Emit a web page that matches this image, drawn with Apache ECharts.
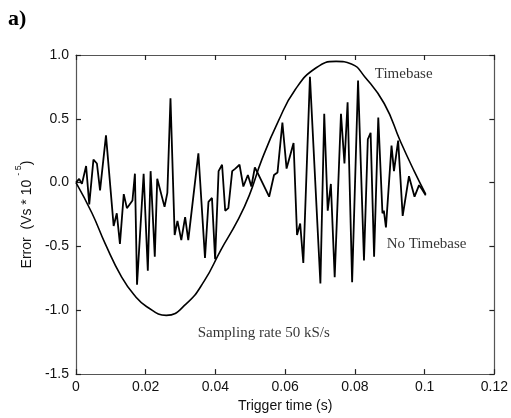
<!DOCTYPE html>
<html>
<head>
<meta charset="utf-8">
<script src="https://cdn.jsdelivr.net/npm/echarts@6/dist/echarts.min.js"></script>
<style>
html, body { margin: 0; padding: 0; background: #fff; }
#chart { width: 511px; height: 418px; }
</style>
</head>
<body>
<div id="chart"></div>
<script>
// smooth reference curve (t in s, error in Vs*1e-5)
var timebase = [
    [0, 0], [0.0046, -0.24], [0.0084, -0.48], [0.0131, -0.74], [0.017, -0.89],
    [0.0202, -0.97], [0.0259, -1.04], [0.0316, -0.95], [0.0368, -0.77], [0.0415, -0.53],
    [0.0463, -0.30], [0.0497, -0.10], [0.0533, 0.18], [0.058, 0.48], [0.0629, 0.73],
    [0.0689, 0.90], [0.0746, 0.95], [0.079, 0.93], [0.0828, 0.83], [0.0884, 0.62],
    [0.0931, 0.32], [0.097, 0.09], [0.1003, -0.09]
];

// noisy measurement without timebase
var noTimebase = [
    [0, 0], [0.0009, 0.03], [0.0017, -0.01], [0.0029, 0.13], [0.0038, -0.17],
    [0.005, 0.18], [0.006, 0.15], [0.0069, -0.06], [0.0086, 0.37], [0.0108, -0.34],
    [0.0117, -0.24], [0.0126, -0.48], [0.0137, -0.09], [0.0146, -0.20], [0.0162, -0.14],
    [0.0169, 0.07], [0.0175, -0.80], [0.0194, 0.07], [0.0206, -0.69], [0.0214, 0.09],
    [0.0226, -0.58], [0.0233, 0.03], [0.0254, -0.19], [0.0262, -0.08], [0.0271, 0.66],
    [0.0283, -0.41], [0.0291, -0.30], [0.0302, -0.45], [0.0313, -0.27], [0.0322, -0.45],
    [0.0351, 0.23], [0.037, -0.59], [0.038, -0.15], [0.039, -0.12], [0.0399, -0.60],
    [0.0409, 0.09], [0.0419, 0.14], [0.0428, -0.22], [0.0437, -0.20], [0.0448, 0.09],
    [0.0457, 0.11], [0.0469, 0.14], [0.048, -0.03], [0.0493, 0.06], [0.0503, -0.03],
    [0.0513, 0.12], [0.0522, 0.07], [0.0554, -0.11], [0.0568, 0.06], [0.0578, 0.08],
    [0.0592, 0.47], [0.0604, 0.11], [0.0624, 0.31], [0.0634, -0.41], [0.0643, -0.32],
    [0.0652, -0.63], [0.0671, 0.83], [0.0701, -0.79], [0.0712, 0.54], [0.0722, -0.22],
    [0.0731, -0.01], [0.0742, -0.74], [0.076, 0.54], [0.077, 0.15], [0.0779, 0.63],
    [0.0792, -0.78], [0.0809, 0.80], [0.0826, -0.61], [0.0837, 0.34], [0.0845, 0.39],
    [0.0855, -0.58], [0.0867, 0.51], [0.0879, -0.24], [0.0883, -0.22], [0.0889, -0.35],
    [0.0905, 0.29], [0.0912, 0.09], [0.0924, 0.33], [0.0937, -0.26], [0.0955, 0.05],
    [0.0971, -0.11], [0.0984, -0.02], [0.0992, -0.05], [0.1003, -0.10]
];

// text annotations, anchored in data coords
var notes = [
    { name: 'Timebase', value: [0.0857, 0.85] },
    { name: 'No Timebase', value: [0.0891, -0.48] },
    { name: 'Sampling rate 50 kS/s', value: [0.0349, -1.18] }
];

var xTicks = { min: 0, max: 0.12, step: 0.02 };
var yTicks = { min: -1.5, max: 1.0, step: 0.5 };

var chart = echarts.init(document.getElementById('chart'));
var axisCol = '#555';
var lblFont = { color: '#111', fontFamily: 'Liberation Sans, Arial', fontSize: 14 };

function frameAxis(extra) {
    return Object.assign({
        type: 'value',
        axisLine: { show: true, onZero: false, lineStyle: { color: axisCol, width: 1.2 } },
        axisTick: { show: true, inside: true, length: 5, lineStyle: { color: '#222', width: 1.2 } },
        splitLine: { show: false }
    }, extra);
}

var option = {
    animation: false,
    title: {
        text: 'a)',
        left: 3,
        top: 3,
        textStyle: { fontFamily: 'Liberation Serif, Times New Roman', fontWeight: 'bold', fontSize: 22, color: '#000' }
    },
    grid: { left: 76, right: 16, top: 55, bottom: 43 },
    xAxis: [frameAxis({
        position: 'bottom',
        min: xTicks.min, max: xTicks.max, interval: xTicks.step,
        name: 'Trigger time (s)',
        nameLocation: 'middle',
        nameGap: 22,
        nameTextStyle: lblFont,
        axisLabel: Object.assign({ margin: 6 }, lblFont)
    }), frameAxis({
        position: 'top',
        min: xTicks.min, max: xTicks.max, interval: xTicks.step,
        axisLabel: { show: false }
    })],
    yAxis: [frameAxis({
        position: 'left',
        min: yTicks.min, max: yTicks.max, interval: yTicks.step,
        name: '{a|Error  (Vs * 10 }{s|- 5}{a|)}',
        nameLocation: 'middle',
        nameGap: 42,
        nameRotate: 90,
        nameTextStyle: {
            rich: {
                a: { fontFamily: 'Liberation Sans, Arial', fontSize: 14, color: '#111', lineHeight: 20, verticalAlign: 'bottom' },
                s: { fontFamily: 'Liberation Sans, Arial', fontSize: 9, color: '#111', lineHeight: 20, verticalAlign: 'top' }
            }
        },
        axisLabel: Object.assign({ margin: 7, formatter: function (v) { return v.toFixed(1); } }, lblFont)
    }), frameAxis({
        position: 'right',
        min: yTicks.min, max: yTicks.max, interval: yTicks.step,
        axisLabel: { show: false }
    })],
    series: [{
        name: 'Timebase',
        type: 'line',
        data: timebase,
        smooth: true,
        showSymbol: false,
        lineStyle: { color: '#000', width: 1.6 }
    }, {
        name: 'No Timebase',
        type: 'line',
        data: noTimebase,
        showSymbol: false,
        lineStyle: { color: '#000', width: 1.8 }
    }, {
        type: 'scatter',
        data: notes,
        symbolSize: 0,
        silent: true,
        label: {
            show: true,
            position: 'right',
            distance: 0,
            formatter: '{b}',
            fontFamily: 'Liberation Serif, Times New Roman',
            fontSize: 15,
            color: '#000'
        }
    }]
};

chart.setOption(option);
window.onresize = function () {
    chart.resize();
};
</script>
</body>
</html>
